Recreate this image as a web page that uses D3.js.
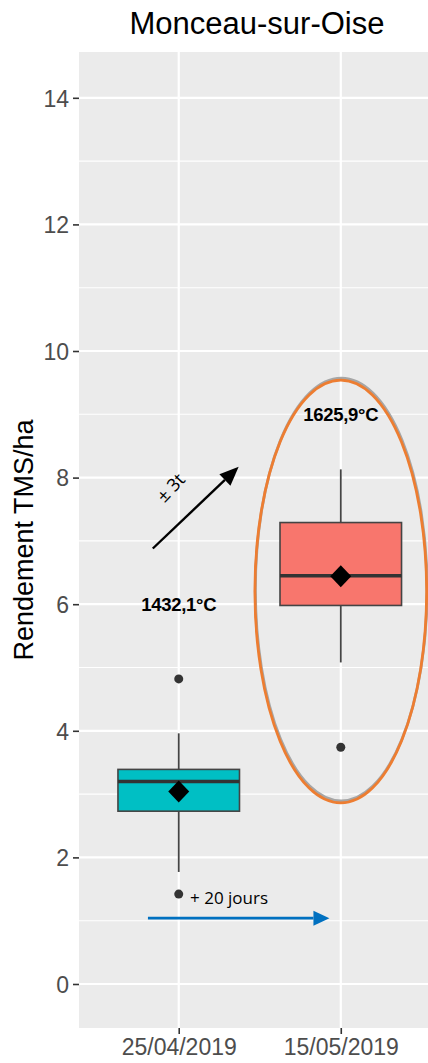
<!DOCTYPE html>
<html>
<head>
<meta charset="utf-8">
<script src="https://cdn.jsdelivr.net/npm/d3@7"></script>
<style>
  html, body { margin: 0; padding: 0; background: #fff; }
  svg { display: block; }
</style>
</head>
<body>
<svg id="chart" width="428" height="1063"></svg>
<script>
// Sowing dates (one box per date)
const categories = ["25/04/2019", "15/05/2019"];
const boxColors = ["#00BFC4", "#F8766D"];

// Five-number summaries of yield (t DM/ha)
const whiskerLow  = [1.77, 5.08];
const q1          = [2.73, 5.98];
const medians     = [3.20, 6.45];
const q3          = [3.39, 7.29];
const whiskerHigh = [3.96, 8.13];
const means       = [3.04, 6.44];
const outliers    = [[4.82, 1.42], [3.74]];

// Cumulated temperature labels
const sumTempLabels = ["1432,1°C", "1625,9°C"];
const sumTempY      = [6.0, 9.0];

// Y axis ticks
const yMajorTicks = [0, 2, 4, 6, 8, 10, 12, 14];
const yMinorTicks = [1, 3, 5, 7, 9, 11, 13];

// Annotations, in (category index, yield) units
const daysArrow  = { x0: 0.81, x1: 1.93, y: 1.04, label: "+ 20 jours", lx: 1.07, ly: 1.27 };
const yieldArrow = { x0: 0.84, y0: 6.88, x1: 1.37, y1: 8.17, label: "± 3t", lx: 0.95, ly: 7.84 };
const focusEllipse = { cx: 2.0, cy: 6.2, rx: 0.53, ry: 3.34 };

const svg = d3.select("#chart");
const panel = { left: 79, top: 52, right: 438, bottom: 1028 };

const x = d3.scalePoint().domain(categories).range([81.5, 438]).padding(0.6);
const step = x.step();
const xi = d3.scaleLinear().domain([1, 2]).range([x(categories[0]), x(categories[1])]);
const y = d3.scaleLinear().domain([-0.7, 14.7]).range([1028.3, 53.5]);

// Panel background
svg.append("rect")
  .attr("x", panel.left).attr("y", panel.top)
  .attr("width", panel.right - panel.left).attr("height", panel.bottom - panel.top)
  .attr("fill", "#EBEBEB");

const grid = svg.append("g");
grid.selectAll(".minor").data(yMinorTicks).join("line")
  .attr("x1", panel.left).attr("x2", panel.right)
  .attr("y1", d => y(d)).attr("y2", d => y(d))
  .attr("stroke", "#fff").attr("stroke-width", 1.1);
grid.selectAll(".major").data(yMajorTicks).join("line")
  .attr("x1", panel.left).attr("x2", panel.right)
  .attr("y1", d => y(d)).attr("y2", d => y(d))
  .attr("stroke", "#fff").attr("stroke-width", 2.2);
grid.selectAll(".vmajor").data(categories).join("line")
  .attr("x1", d => x(d)).attr("x2", d => x(d))
  .attr("y1", panel.top).attr("y2", panel.bottom)
  .attr("stroke", "#fff").attr("stroke-width", 2.2);

// Axes
const yAxis = svg.append("g")
  .attr("transform", `translate(${panel.left},0)`)
  .call(d3.axisLeft(y).tickValues(yMajorTicks).tickSize(6).tickPadding(4));
const xAxis = svg.append("g")
  .attr("transform", `translate(0,${panel.bottom})`)
  .call(d3.axisBottom(x).tickSize(6).tickPadding(4));
[yAxis, xAxis].forEach(ax => {
  ax.select(".domain").remove();
  ax.selectAll(".tick line").attr("stroke", "#333").attr("stroke-width", 1.6);
  ax.selectAll(".tick text")
    .attr("fill", "#4D4D4D")
    .style("font-family", "'Liberation Sans', Arial, sans-serif")
    .style("font-size", "23px");
});
yAxis.selectAll(".tick text").attr("dy", "0.36em");
xAxis.selectAll(".tick text").attr("dy", "0.72em");

// Boxplots
const boxW = step * 0.75;
const boxes = svg.append("g");
categories.forEach((c, i) => {
  const cx = x(c);
  const g = boxes.append("g");
  g.append("line")
    .attr("x1", cx).attr("x2", cx)
    .attr("y1", y(q3[i])).attr("y2", y(whiskerHigh[i]))
    .attr("stroke", "#444").attr("stroke-width", 1.8);
  g.append("line")
    .attr("x1", cx).attr("x2", cx)
    .attr("y1", y(q1[i])).attr("y2", y(whiskerLow[i]))
    .attr("stroke", "#444").attr("stroke-width", 1.8);
  g.append("rect")
    .attr("x", cx - boxW / 2).attr("width", boxW)
    .attr("y", y(q3[i])).attr("height", y(q1[i]) - y(q3[i]))
    .attr("fill", boxColors[i]).attr("stroke", "#444").attr("stroke-width", 1.6);
  g.append("line")
    .attr("x1", cx - boxW / 2).attr("x2", cx + boxW / 2)
    .attr("y1", y(medians[i])).attr("y2", y(medians[i]))
    .attr("stroke", "#333").attr("stroke-width", 3.4);
  g.selectAll("circle").data(outliers[i]).join("circle")
    .attr("cx", cx).attr("cy", d => y(d)).attr("r", 4.5)
    .attr("fill", "#333");
  const my = y(means[i]);
  g.append("path")
    .attr("d", `M${cx},${my - 11}L${cx + 10.5},${my}L${cx},${my + 11}L${cx - 10.5},${my}Z`)
    .attr("fill", "#000");
});

// Cumulated temperature labels
svg.append("g").selectAll("text").data(sumTempLabels).join("text")
  .attr("x", (d, i) => x(categories[i]))
  .attr("y", (d, i) => y(sumTempY[i]))
  .attr("dy", "0.36em")
  .attr("text-anchor", "middle")
  .style("font-family", "'Liberation Sans', Arial, sans-serif")
  .style("font-weight", "bold")
  .style("font-size", "18.5px")
  .style("letter-spacing", "-0.3px")
  .attr("fill", "#000")
  .text(d => d);

// Highlight ellipse around the later sowing date
const ann = svg.append("g");
ann.append("ellipse")
  .attr("cx", xi(focusEllipse.cx) + 0.5).attr("cy", y(focusEllipse.cy) - 2)
  .attr("rx", xi(focusEllipse.cx + focusEllipse.rx) - xi(focusEllipse.cx))
  .attr("ry", y(focusEllipse.cy - focusEllipse.ry) - y(focusEllipse.cy))
  .attr("fill", "none").attr("stroke", "#A6A6A6").attr("stroke-width", 2.8);
ann.append("ellipse")
  .attr("cx", xi(focusEllipse.cx)).attr("cy", y(focusEllipse.cy))
  .attr("rx", xi(focusEllipse.cx + focusEllipse.rx) - xi(focusEllipse.cx))
  .attr("ry", y(focusEllipse.cy - focusEllipse.ry) - y(focusEllipse.cy))
  .attr("fill", "none").attr("stroke", "#ED7D31").attr("stroke-width", 2.8);

// Arrow helper: line plus triangular head
function arrow(g, x0, y0, x1, y1, color, width, headLen, headHalf) {
  const ang = Math.atan2(y1 - y0, x1 - x0);
  const bx = x1 - headLen * Math.cos(ang), by = y1 - headLen * Math.sin(ang);
  g.append("line")
    .attr("x1", x0).attr("y1", y0).attr("x2", bx).attr("y2", by)
    .attr("stroke", color).attr("stroke-width", width);
  const px = -Math.sin(ang) * headHalf, py = Math.cos(ang) * headHalf;
  g.append("path")
    .attr("d", `M${x1},${y1}L${bx + px},${by + py}L${bx - px},${by - py}Z`)
    .attr("fill", color);
}

arrow(ann, xi(yieldArrow.x0), y(yieldArrow.y0), xi(yieldArrow.x1), y(yieldArrow.y1),
      "#000", 2.4, 19, 8);
ann.append("text")
  .attr("transform", `translate(${xi(yieldArrow.lx)},${y(yieldArrow.ly)}) rotate(-47)`)
  .attr("text-anchor", "middle").attr("dy", "0.35em")
  .style("font-family", "'Open Sans', 'Noto Sans', sans-serif")
  .style("font-size", "18px")
  .attr("fill", "#000")
  .text(yieldArrow.label);

arrow(ann, xi(daysArrow.x0), y(daysArrow.y), xi(daysArrow.x1), y(daysArrow.y),
      "#0070C0", 2.6, 16, 7.5);
ann.append("text")
  .attr("x", xi(daysArrow.lx)).attr("y", y(daysArrow.ly))
  .style("font-family", "'Open Sans', 'Noto Sans', sans-serif")
  .style("font-size", "17px")
  .attr("fill", "#000")
  .text(daysArrow.label);

// Titles
svg.append("text")
  .attr("x", 257).attr("y", 33.5)
  .attr("text-anchor", "middle")
  .style("font-family", "'Liberation Sans', Arial, sans-serif")
  .style("font-size", "31px")
  .attr("fill", "#000")
  .text("Monceau-sur-Oise");

svg.append("text")
  .attr("transform", `translate(33,${(panel.top + panel.bottom) / 2}) rotate(-90)`)
  .attr("text-anchor", "middle")
  .style("font-family", "'Liberation Sans', Arial, sans-serif")
  .style("font-size", "27px")
  .attr("fill", "#000")
  .text("Rendement TMS/ha");
</script>
</body>
</html>
